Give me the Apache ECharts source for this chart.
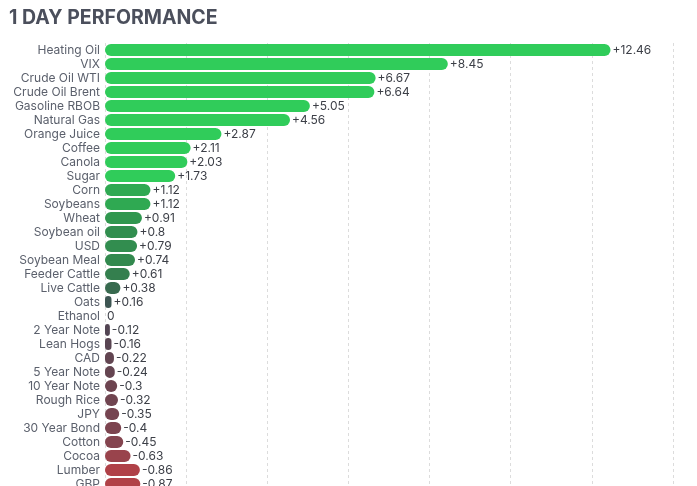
<!DOCTYPE html>
<html><head><meta charset="utf-8">
<script src="https://cdn.jsdelivr.net/npm/echarts@6/dist/echarts.min.js"></script>
<style>html,body{margin:0;padding:0;background:#fff;overflow:hidden;height:486px}#c{width:697px;height:493px}</style>
</head><body><div id="c"></div>
<script>
const categories = ["Heating Oil","VIX","Crude Oil WTI","Crude Oil Brent","Gasoline RBOB","Natural Gas","Orange Juice","Coffee","Canola","Sugar","Corn","Soybeans","Wheat","Soybean oil","USD","Soybean Meal","Feeder Cattle","Live Cattle","Oats","Ethanol","2 Year Note","Lean Hogs","CAD","5 Year Note","10 Year Note","Rough Rice","JPY","30 Year Bond","Cotton","Cocoa","Lumber","GBP"];
const values = [12.46,8.45,6.67,6.64,5.05,4.56,2.87,2.11,2.03,1.73,1.12,1.12,0.91,0.8,0.79,0.74,0.61,0.38,0.16,0,-0.12,-0.16,-0.22,-0.24,-0.3,-0.32,-0.35,-0.4,-0.45,-0.63,-0.86,-0.87];
const xTicks = [0,2,4,6,8,10,12,14];

const stops = [[-1.5,[246,53,56]],[-1,[191,64,69]],[-0.5,[139,68,78]],[0,[65,69,84]],[0.5,[53,118,78]],[1,[47,158,79]],[1.5,[48,204,90]]];
function colorFor(v){
  if(v<=stops[0][0]) return 'rgb('+stops[0][1].join(',')+')';
  if(v>=stops[stops.length-1][0]) return 'rgb('+stops[stops.length-1][1].join(',')+')';
  for(let i=0;i<stops.length-1;i++){
    const a=stops[i],b=stops[i+1];
    if(v>=a[0]&&v<=b[0]){
      const t=(v-a[0])/(b[0]-a[0]);
      const c=a[1].map((x,k)=>Math.round(x+(b[1][k]-x)*t));
      return 'rgb('+c.join(',')+')';
    }
  }
}
const data = values.map(v=>({value:Math.abs(v),orig:v,itemStyle:{color:colorFor(v)}}));

const chart = echarts.init(document.getElementById('c'),null,{renderer:'canvas'});
chart.setOption({
  animation:false,
  textStyle:{fontFamily:'Inter'},
  title:{text:'1 DAY PERFORMANCE',left:4,top:3,textStyle:{fontFamily:'Inter',fontSize:19.5,fontWeight:'bold',color:'#4b4f5c'}},
  grid:{left:105,right:24,top:43,height:448,containLabel:false},
  xAxis:{type:'value',min:xTicks[0],max:xTicks[xTicks.length-1],interval:2,
    axisLabel:{show:false},axisLine:{show:false},axisTick:{show:false},
    splitLine:{show:true,lineStyle:{type:[3,3],color:'#dcdcdc',width:1}}},
  yAxis:{type:'category',data:categories,inverse:true,
    axisLine:{show:false},axisTick:{show:false},
    axisLabel:{interval:0,fontFamily:'Inter',fontSize:12,color:'#5b606c',margin:5}},
  series:[{type:'bar',data:data,barWidth:12,
    itemStyle:{borderRadius:6},
    label:{show:true,position:'right',distance:2,fontFamily:'Inter',fontSize:12,color:'#3c3f47',
      formatter:p=>{const v=p.data.orig;return v>0?'+'+v:String(v);}}
  }]
});
</script></body></html>
